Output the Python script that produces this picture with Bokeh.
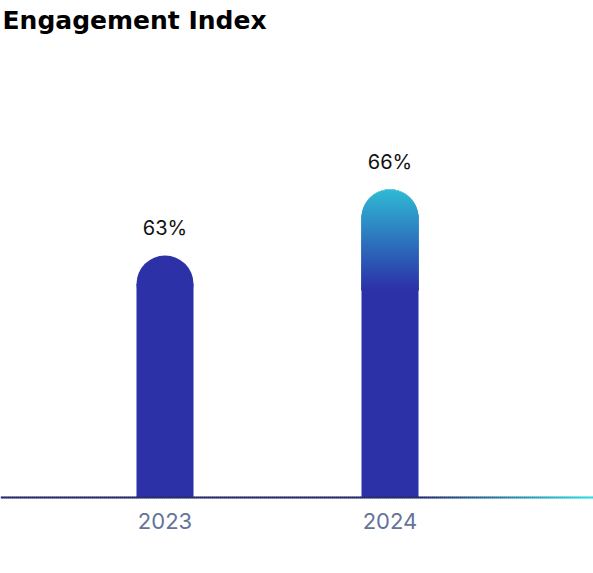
import numpy as np
from bokeh.plotting import figure
from bokeh.models import Range1d, Label, ColumnDataSource, FixedTicker
from bokeh.core.properties import value
from bokeh.embed import file_html
from bokeh.resources import INLINE

# ---- data ----
years = ["2023", "2024"]
engagement = [63, 66]
pct_labels = ["63%", "66%"]
title_text = "Engagement Index"

# ---- style ----
W, H = 593, 573
BASE_PX = 497          # baseline position from top
FRAME_H = 500
BAR_PX = 57
SOLID = "#2D31A8"
TOP_CYAN = (46, 186, 212)
BOT_BLUE = (45, 49, 168)
GRAD_PX = 100
PX_PER_UNIT = 22.0

base_val = 52.0
x_start, x_end = -0.7311, 1.9044
y_start = base_val - (FRAME_H - BASE_PX) / PX_PER_UNIT
y_end = base_val + BASE_PX / PX_PER_UNIT

px_x = W / (x_end - x_start)        # px per x unit
px_y = FRAME_H / (y_end - y_start)  # px per y unit

p = figure(width=W, height=H, output_backend="svg", toolbar_location=None,
           x_range=Range1d(x_start, x_end), y_range=Range1d(y_start, y_end),
           min_border_left=0, min_border_right=0, min_border_top=0,
           min_border_bottom=H - FRAME_H)
p.outline_line_color = None
p.xgrid.visible = False
p.ygrid.visible = False
p.yaxis.visible = False
p.background_fill_color = "white"
p.border_fill_color = "white"

xs = list(range(len(years)))
bw = BAR_PX / px_x
r_data = (BAR_PX / 2) / px_y

# 2023 bar: solid with rounded top
tops = [v - r_data for v in engagement]
p.vbar(x=[xs[0]], top=[tops[0]], bottom=base_val, width=bw, color=SOLID, line_color=None)
p.scatter(x=[xs[0]], y=[tops[0]], size=BAR_PX, marker="circle", color=SOLID, line_color=None)

# 2024 bar: solid lower part, gradient top
grad_data = GRAD_PX / px_y
p.vbar(x=[xs[1]], top=[engagement[1] - grad_data + 0.1], bottom=base_val, width=bw,
       color=SOLID, line_color=None)
rows = np.arange(0, GRAD_PX, 1.0)
lefts, rights, bots, tps, cols = [], [], [], [], []
r_px = BAR_PX / 2
for d in rows:
    dc = d + 0.5
    if dc < r_px:
        half = np.sqrt(max(r_px**2 - (r_px - dc)**2, 0))
    else:
        half = r_px
    t = min(dc / GRAD_PX, 1.0)
    c = tuple(int(round(TOP_CYAN[i] + (BOT_BLUE[i] - TOP_CYAN[i]) * t)) for i in range(3))
    lefts.append(xs[1] - half / px_x)
    rights.append(xs[1] + half / px_x)
    tps.append(engagement[1] - d / px_y)
    bots.append(engagement[1] - (d + 2.0) / px_y)
    cols.append("#%02x%02x%02x" % c)
# draw twice so anti-aliased slice seams are fully covered
for _ in range(2):
    p.quad(left=lefts, right=rights, top=tps, bottom=bots, color=cols, line_color=None)

# value labels
src = ColumnDataSource(dict(x=xs, y=engagement, t=pct_labels))
p.text(x="x", y="y", text="t", source=src, text_align="center", text_baseline="bottom",
       y_offset=-16, text_font=value("Inter"), text_font_size="20px", text_color="#111111")

# baseline with gradient on the right
seg_x = np.arange(0, W, 2.0)
x0s, x1s, lcols = [], [], []
g_start = 418.0
for sx in seg_x:
    if sx < g_start:
        t = 0.0
    else:
        t = (sx - g_start) / (W - g_start)
    a = (40, 44, 112)
    b = (46, 224, 232)
    c = tuple(int(round(a[i] + (b[i] - a[i]) * t)) for i in range(3))
    x0s.append(x_start + sx / px_x)
    x1s.append(x_start + (sx + 2.5) / px_x)
    lcols.append("#%02x%02x%02x" % c)
p.segment(x0=x0s, y0=base_val, x1=x1s, y1=base_val, line_color=lcols, line_width=2)

# x axis
p.xaxis.ticker = FixedTicker(ticks=xs)
p.xaxis.major_label_overrides = {i: y for i, y in zip(xs, years)}
p.xaxis.axis_line_color = None
p.xaxis.major_tick_line_color = None
p.xaxis.minor_tick_line_color = None
p.xaxis.major_label_standoff = 6
p.xaxis.major_label_text_font = "Inter"
p.xaxis.major_label_text_font_size = "22px"
p.xaxis.major_label_text_color = "#64739A"

# title
p.add_layout(Label(x=2, y=FRAME_H - 31 + 11, x_units="screen", y_units="screen", text=title_text,
                   text_font="DejaVu Sans", text_font_style="bold", text_font_size="25px",
                   text_color="#000000", text_baseline="alphabetic"))

open("out.html", "w").write(file_html(p, INLINE))
